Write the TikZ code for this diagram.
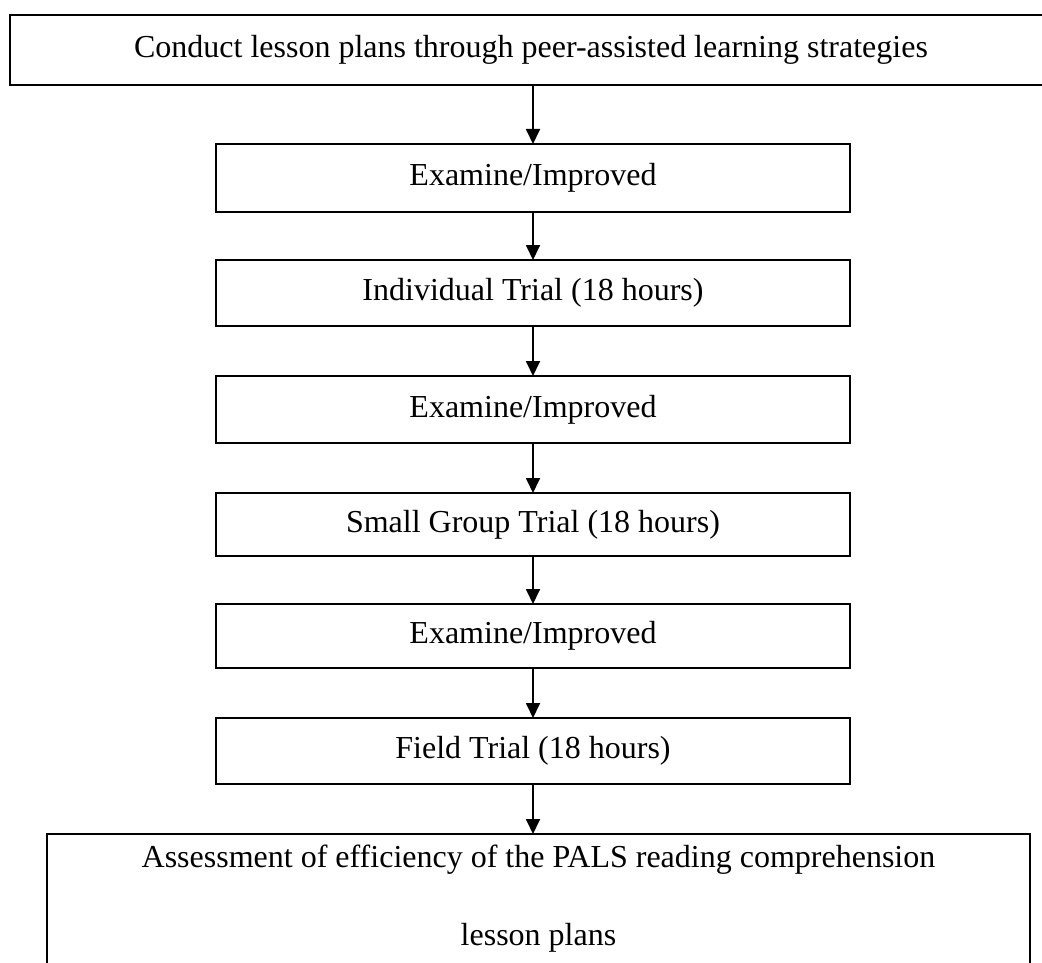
\documentclass[tikz,border=0pt]{standalone}
\usepackage{fontspec}
\setmainfont{Liberation Serif}
\usetikzlibrary{arrows.meta}
\begin{document}
\begin{tikzpicture}[x=1pt,y=-1pt,
  box/.style={draw, line width=1.8pt, rectangle, inner sep=0pt, outer sep=0pt,
    font=\fontsize{32}{38}\selectfont, text height=22pt, text depth=7pt},
  stepbox/.style={box, minimum width=634pt},
  arr/.style={line width=1.8pt, -{Triangle[width=14pt,length=15pt]}},
  txt/.style={inner sep=0pt, font=\fontsize{32}{38}\selectfont, anchor=base}
]
\useasboundingbox (0,0) rectangle (1042,963);
\fill[white] (0,0) rectangle (1042,963);

\node[box, minimum width=1042pt, minimum height=70pt] (top) at (531,50)
  {Conduct lesson plans through peer-assisted learning strategies};

\node[stepbox, minimum height=68pt] (b1) at (533,178) {Examine/Improved};
\node[stepbox, minimum height=66pt] (b2) at (533,293) {Individual Trial (18 hours)};
\node[stepbox, minimum height=67pt] (b3) at (533,409.5) {Examine/Improved};
\node[stepbox, minimum height=63pt] (b4) at (533,524.5) {Small Group Trial (18 hours)};
\node[stepbox, minimum height=64pt] (b5) at (533,636) {Examine/Improved};
\node[stepbox, minimum height=66pt] (b6) at (533,751) {Field Trial (18 hours)};

\node[box, minimum width=983pt, minimum height=176pt] (last) at (538.5,922) {};
\node[txt] (l1) at (538.5,867) {Assessment of efficiency of the PALS reading comprehension};
\node[txt] (l2) at (538.5,945) {lesson plans};

\draw[arr] (top.south -| b1.north) -- (b1.north);
\draw[arr] (b1.south) -- (b2.north);
\draw[arr] (b2.south) -- (b3.north);
\draw[arr] (b3.south) -- (b4.north);
\draw[arr] (b4.south) -- (b5.north);
\draw[arr] (b5.south) -- (b6.north);
\draw[arr] (b6.south) -- (last.north -| b6.south);
\end{tikzpicture}
\end{document}
